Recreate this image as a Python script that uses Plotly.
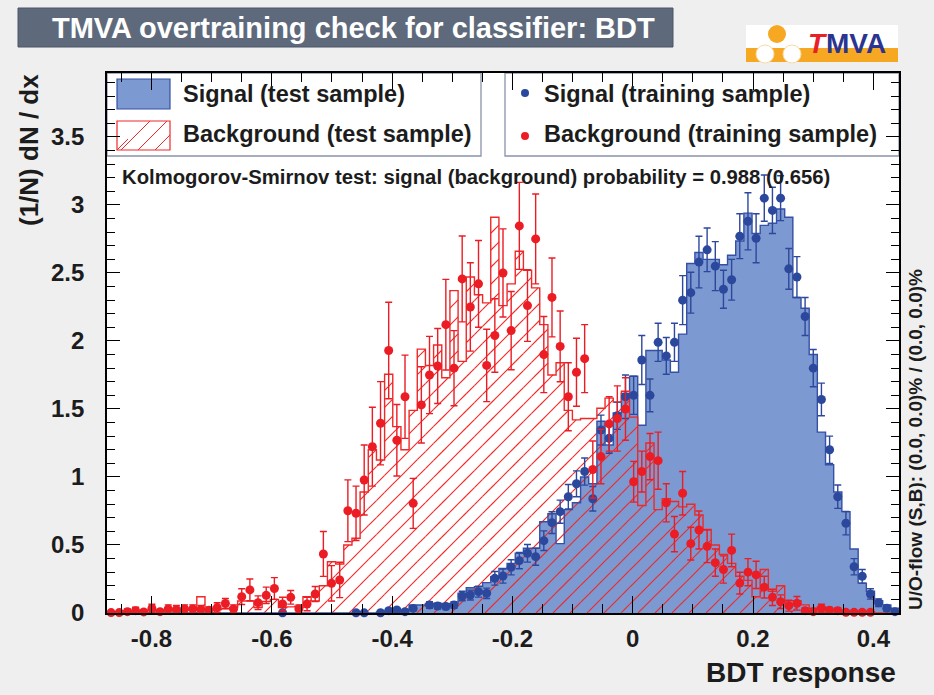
import numpy as np
import plotly.graph_objects as go

# ---------------------------------------------------------------- binning
X_MIN, X_MAX, N_BINS = -0.874, 0.4427, 97
Y_MAX = 3.97

X_TICKS = [-0.8, -0.6, -0.4, -0.2, 0.0, 0.2, 0.4]
X_TICK_LABELS = ["-0.8", "-0.6", "-0.4", "-0.2", "0", "0.2", "0.4"]

# ---------------------------------------------------------------- histograms (1/N dN/dx)
SIG_TEST = [
    0, 0, 0, 0, 0, 0, 0, 0, 0, 0,
    0, 0, 0, 0, 0, 0, 0, 0, 0, 0,
    0, 0, 0, 0, 0, 0, 0, 0, 0, 0,
    0, 0, 0, 0.005, 0.01, 0.01, 0.02, 0.059, 0.059, 0.071,
    0.071, 0.071, 0.071, 0.145, 0.186, 0.194, 0.223, 0.267, 0.328, 0.365,
    0.439, 0.476, 0.476, 0.671, 0.73, 0.51, 0.76, 0.81, 1.00, 0.95,
    1.41, 1.235, 1.47, 1.615, 1.74, 1.38, 1.93, 1.93, 1.86, 1.77,
    2.05, 2.57, 2.65, 2.60, 2.60, 2.56, 2.63, 2.735, 2.94, 2.79,
    2.85, 2.865, 2.97, 2.91, 2.32, 2.24, 1.90, 1.33, 1.09, 0.89,
    0.745, 0.47, 0.22, 0.16, 0.09, 0.06, 0.035,
]

BKG_TEST = [
    0.01, 0.01, 0.015, 0.01, 0.015, 0.02, 0.01, 0.02, 0.015, 0.02,
    0.02, 0.12, 0.02, 0.025, 0.03, 0.04, 0.088, 0.088, 0.04, 0.085,
    0.10, 0.04, 0.045, 0.05, 0.12, 0.088, 0.20, 0.377, 0.36, 0.50,
    0.55, 0.89, 1.20, 1.125, 1.755, 1.37, 1.20, 1.49, 1.94, 1.82,
    1.97, 1.73, 2.37, 1.85, 2.47, 2.34, 2.28, 2.91, 2.26, 2.42,
    2.66, 2.52, 2.39, 2.12, 1.75, 1.84, 1.49, 1.42, 1.43, 1.43,
    1.505, 1.58, 1.55, 1.63, 1.44, 0.79, 1.25, 0.76, 0.84, 0.82,
    0.78, 0.80, 0.72, 0.615, 0.50, 0.43, 0.365, 0.27, 0.24, 0.12,
    0.32, 0.16, 0.20, 0.09, 0.09, 0.06, 0.035, 0.045, 0.025, 0.02,
    0.01, 0.01, 0.01, 0.01, 0, 0, 0,
]

N = None
SIG_TRAIN = [
    N, N, N, N, N, N, N, N, N, N,
    N, N, N, N, N, N, N, N, N, N,
    N, 0.002, N, N, N, N, N, N, N, N,
    0.002, 0.001, N, 0.002, 0.017, 0.022, 0.01, 0.034, N, 0.059,
    0.051, 0.047, 0.059, 0.125, 0.132, 0.157, 0.145, 0.255, 0.272, 0.336,
    0.385, 0.439, 0.414, 0.532, 0.664, 0.745, 0.855, 0.95, 1.04, 0.84,
    1.345, 1.285, 1.45, 1.59, 1.60, 1.86, 1.60, 1.99, 1.89, 1.99,
    2.30, 2.355, 2.58, 2.67, 2.55, 2.38, 2.45, 2.77, 2.88, 2.755,
    3.05, 2.96, 3.05, 2.53, 2.47, 2.18, 1.80, 1.57, 1.20, 0.855,
    0.66, 0.34, 0.27, 0.14, 0.076, 0.035, 0.01,
]
SIG_TRAIN_ERR = [
    0, 0, 0, 0, 0, 0, 0, 0, 0, 0,
    0, 0, 0, 0, 0, 0, 0, 0, 0, 0,
    0, 0.005, 0, 0, 0, 0, 0, 0, 0, 0,
    0.005, 0.005, 0, 0.005, 0.012, 0.014, 0.01, 0.018, 0, 0.024,
    0.022, 0.022, 0.024, 0.035, 0.036, 0.04, 0.038, 0.05, 0.052, 0.056,
    0.06, 0.065, 0.063, 0.072, 0.08, 0.085, 0.09, 0.095, 0.10, 0.09,
    0.11, 0.11, 0.10, 0.16, 0.14, 0.18, 0.12, 0.14, 0.135, 0.14,
    0.18, 0.15, 0.19, 0.16, 0.18, 0.14, 0.15, 0.165, 0.21, 0.18,
    0.17, 0.17, 0.165, 0.15, 0.15, 0.14, 0.137, 0.12, 0.10, 0.086,
    0.086, 0.06, 0.05, 0.038, 0.028, 0.02, 0.01,
]

BKG_TRAIN = [
    0.003, 0.003, 0.01, 0.017, 0.008, 0.034, 0.01, 0.03, 0.025, 0.03,
    0.03, 0.025, 0.02, 0.04, 0.07, 0.03, 0.12, 0.17, 0.076, 0.13,
    0.18, 0.066, 0.115, 0.03, 0.066, 0.14, 0.434, 0.218, 0.243, 0.752,
    0.733, 0.978, 1.223, 1.395, 1.93, 1.27, 1.59, 0.806, 1.53, 1.75,
    1.816, 2.12, 1.80, 2.456, 2.25, 2.42, 1.82, 2.04, 2.50, 2.076,
    2.846, 2.26, 2.75, 1.90, 2.32, 1.96, 1.59, 1.77, 1.87, 1.055,
    1.15, 1.39, 1.43, 1.50, 0.965, 1.04, 1.15, 1.12, 0.81, 0.58,
    0.88, 0.51, 0.61, 0.49, 0.37, 0.32, 0.46, 0.22, 0.30, 0.28,
    0.19, 0.115, 0.083, 0.054, 0.071, 0.017, 0.010, 0.034, 0.02, 0.017,
    0.005, 0.005, 0.005, 0.005, N, N, N,
]
BKG_TRAIN_ERR = [
    0.01, 0.01, 0.02, 0.025, 0.015, 0.03, 0.015, 0.03, 0.03, 0.03,
    0.03, 0.03, 0.025, 0.035, 0.037, 0.03, 0.058, 0.08, 0.05, 0.06,
    0.08, 0.05, 0.05, 0.03, 0.05, 0.055, 0.165, 0.13, 0.13, 0.227,
    0.20, 0.257, 0.29, 0.306, 0.355, 0.263, 0.306, 0.184, 0.28, 0.284,
    0.276, 0.333, 0.276, 0.316, 0.325, 0.319, 0.266, 0.27, 0.324, 0.288,
    0.32, 0.263, 0.33, 0.28, 0.29, 0.26, 0.25, 0.25, 0.25, 0.21,
    0.20, 0.20, 0.24, 0.23, 0.15, 0.15, 0.17, 0.21, 0.14, 0.13,
    0.16, 0.12, 0.14, 0.12, 0.10, 0.10, 0.12, 0.08, 0.10, 0.10,
    0.08, 0.06, 0.05, 0.04, 0.05, 0.02, 0.015, 0.03, 0.02, 0.02,
    0.01, 0.01, 0.01, 0.01, 0, 0, 0,
]

KS_TEXT = "Kolmogorov-Smirnov test: signal (background) probability = 0.988 (0.656)"
FLOW_TEXT = "U/O-flow (S,B): (0.0, 0.0)% / (0.0, 0.0)%"

# ---------------------------------------------------------------- colours / fonts
SIG_FILL = "#7d99d1"
SIG_LINE = "#3550a5"
SIG_MARK = "#2c489d"
BKG_LINE = "#f02828"
BKG_MARK = "#ec1c24"
TEXT = "#1c1c1c"
FONT = "Liberation Sans, Arial, sans-serif"

edges = np.linspace(X_MIN, X_MAX, N_BINS + 1)
centers = 0.5 * (edges[:-1] + edges[1:])
bw = edges[1] - edges[0]

# canvas geometry
W, H = 934, 695
ML, MR, MT, MB = 107, 35, 73, 82
PW, PH = W - ML - MR, H - MT - MB
HATCH_STEP = 17  # px between hatch lines (horizontal)


def fx(px):
    return (px - ML) / PW


def fy(py):
    return (MT + PH - py) / PH


def hatch_segments(values):
    """45-degree hatch lines clipped to every bin of a histogram."""
    xs, ys = [], []
    sx = PW / (X_MAX - X_MIN)
    sy = PH / Y_MAX
    offsets = np.arange(-PH - HATCH_STEP, PW + HATCH_STEP, HATCH_STEP)
    for lo, hi, v in zip(edges[:-1], edges[1:], values):
        a, b, h = (lo - X_MIN) * sx, (hi - X_MIN) * sx, v * sy
        if h <= 0.5:
            continue
        for c in offsets:
            u0, u1 = max(a, c), min(b, c + h)
            if u1 > u0:
                xs += [X_MIN + u0 / sx, X_MIN + u1 / sx, None]
                ys += [(u0 - c) / sy, (u1 - c) / sy, None]
    return xs, ys


fig = go.Figure()

# signal (test sample): filled histogram
fig.add_trace(go.Bar(
    x=centers, y=SIG_TEST, width=bw,
    marker=dict(color=SIG_FILL, line=dict(width=0)),
    hoverinfo="skip", showlegend=False,
))

# background (test sample): hatched histogram
hx, hy = hatch_segments(BKG_TEST)
fig.add_trace(go.Scatter(
    x=hx, y=hy, mode="lines", line=dict(color=BKG_LINE, width=1.1),
    hoverinfo="skip", showlegend=False,
))


def step(values):
    return list(values) + [values[-1]]


fig.add_trace(go.Scatter(
    x=edges, y=step(SIG_TEST), mode="lines", line=dict(shape="hv", color=SIG_LINE, width=1.4),
    hoverinfo="skip", showlegend=False,
))
fig.add_trace(go.Scatter(
    x=edges, y=step(BKG_TEST), mode="lines", line=dict(shape="hv", color=BKG_LINE, width=1.4),
    hoverinfo="skip", showlegend=False,
))

# training samples: points with error bars
fig.add_trace(go.Scatter(
    x=centers, y=SIG_TRAIN, mode="markers",
    marker=dict(symbol="circle", size=9, color=SIG_MARK),
    error_y=dict(type="data", array=SIG_TRAIN_ERR, width=3.5, thickness=1.4, color=SIG_MARK),
    cliponaxis=False, showlegend=False,
))
fig.add_trace(go.Scatter(
    x=centers, y=BKG_TRAIN, mode="markers",
    marker=dict(symbol="circle", size=9, color=BKG_MARK),
    error_y=dict(type="data", array=BKG_TRAIN_ERR, width=3.5, thickness=1.4, color=BKG_MARK),
    cliponaxis=False, showlegend=False,
))

axis_common = dict(
    showline=True, linecolor="black", linewidth=1.6, mirror="ticks",
    ticks="inside", tickcolor="black", tickwidth=1.3, showgrid=False, zeroline=False,
    tickfont=dict(family=FONT, size=24, color=TEXT, weight="bold"),
)
fig.update_xaxes(
    range=[X_MIN, X_MAX], tickvals=X_TICKS, ticktext=X_TICK_LABELS, ticklen=17,
    minor=dict(dtick=0.05, tick0=0, ticklen=9, ticks="inside", tickcolor="black", tickwidth=1.2),
    ticklabelstandoff=3, **axis_common,
)
fig.update_yaxes(
    range=[0, Y_MAX], dtick=0.5, tick0=0, ticklen=13,
    minor=dict(dtick=0.1, tick0=0, ticklen=8, ticks="inside", tickcolor="black", tickwidth=1.2),
    ticklabelstandoff=16, **axis_common,
)

shapes = []
annotations = []

# title banner
shapes.append(dict(type="rect", xref="paper", yref="paper", x0=fx(18), x1=fx(673), y0=fy(47), y1=fy(8),
                   fillcolor="#5e6a7c", line=dict(color="#4b5566", width=1), layer="above"))
annotations.append(dict(xref="paper", yref="paper", x=fx(353), y=fy(27.5), xanchor="center", yanchor="middle",
                        text="TMVA overtraining check for classifier: BDT", showarrow=False,
                        font=dict(family=FONT, size=29, color="white", weight="bold")))

# logo
shapes.append(dict(type="rect", xref="paper", yref="paper", x0=fx(746), x1=fx(898), y0=fy(62), y1=fy(25),
                   fillcolor="white", line=dict(width=0), layer="above"))
shapes.append(dict(type="rect", xref="paper", yref="paper", x0=fx(746), x1=fx(898), y0=fy(62), y1=fy(48),
                   fillcolor="#f7a823", line=dict(width=0), layer="above"))
shapes.append(dict(type="circle", xref="paper", yref="paper", x0=fx(768), x1=fx(786), y0=fy(43), y1=fy(25),
                   fillcolor="#f7a823", line=dict(width=0), layer="above"))
for cx in (765, 792):
    shapes.append(dict(type="circle", xref="paper", yref="paper", x0=fx(cx - 9), x1=fx(cx + 9),
                       y0=fy(63), y1=fy(45), fillcolor="white",
                       line=dict(color="#fbd9a0", width=1), layer="above"))
annotations.append(dict(xref="paper", yref="paper", x=fx(806), y=fy(44), xanchor="left", yanchor="middle",
                        text="<i>T</i>", showarrow=False,
                        font=dict(family=FONT, size=28, color="#e8202a", weight="bold")))
annotations.append(dict(xref="paper", yref="paper", x=fx(824), y=fy(44), xanchor="left", yanchor="middle",
                        text="MVA", showarrow=False,
                        font=dict(family=FONT, size=28, color="#2b3590", weight="bold")))

# legend boxes
BOX_LINE = "#8893aa"
shapes.append(dict(type="rect", xref="paper", yref="paper", x0=fx(107), x1=fx(481), y0=fy(156), y1=fy(73),
                   fillcolor="white", line=dict(color=BOX_LINE, width=1.3), layer="below"))
shapes.append(dict(type="rect", xref="paper", yref="paper", x0=fx(505), x1=fx(899), y0=fy(156), y1=fy(73),
                   fillcolor="white", line=dict(color=BOX_LINE, width=1.3), layer="below"))
shapes.append(dict(type="rect", xref="paper", yref="paper", x0=fx(117), x1=fx(170), y0=fy(109), y1=fy(79),
                   fillcolor=SIG_FILL, line=dict(color=SIG_LINE, width=1.2), layer="below"))
shapes.append(dict(type="rect", xref="paper", yref="paper", x0=fx(117), x1=fx(170), y0=fy(150), y1=fy(121),
                   fillcolor="white", line=dict(color=BKG_LINE, width=1.2), layer="below"))
for (a, b, c, d) in [(117, 150, 128, 139), (121, 150, 150, 121), (138, 150, 167, 121), (155, 150, 170, 135)]:
    shapes.append(dict(type="line", xref="paper", yref="paper", x0=fx(a), y0=fy(b), x1=fx(c), y1=fy(d),
                       line=dict(color=BKG_LINE, width=1), layer="below"))
for cy, col in ((93, SIG_MARK), (136, BKG_MARK)):
    shapes.append(dict(type="circle", xref="paper", yref="paper", x0=fx(521), x1=fx(529),
                       y0=fy(cy + 4), y1=fy(cy - 4), fillcolor=col, line=dict(width=0), layer="above"))

legend_font = dict(family=FONT, size=23.5, color=TEXT, weight="bold")
for x, y, t in [(181, 94, "Signal (test sample)"), (181, 134, "Background (test sample)"),
                (542, 94, "Signal (training sample)"), (542, 134, "Background (training sample)")]:
    annotations.append(dict(xref="paper", yref="paper", x=fx(x), y=fy(y), xanchor="left", yanchor="middle",
                            text=t, showarrow=False, font=legend_font))

annotations.append(dict(xref="paper", yref="paper", x=fx(120), y=fy(177), xanchor="left", yanchor="middle",
                        text=KS_TEXT, showarrow=False,
                        font=dict(family=FONT, size=20.3, color=TEXT, weight="bold")))

# axis titles and overflow note
annotations.append(dict(xref="paper", yref="paper", x=fx(898), y=fy(672), xanchor="right", yanchor="middle",
                        text="BDT response", showarrow=False,
                        font=dict(family=FONT, size=28, color=TEXT, weight="bold")))
annotations.append(dict(xref="paper", yref="paper", x=fx(29), y=fy(150), xanchor="center", yanchor="middle",
                        text="(1/N) dN / dx", textangle=-90, showarrow=False,
                        font=dict(family=FONT, size=26, color=TEXT, weight="bold")))
annotations.append(dict(xref="paper", yref="paper", x=fx(915), y=fy(439), xanchor="center", yanchor="middle",
                        text=FLOW_TEXT, textangle=-90, showarrow=False,
                        font=dict(family=FONT, size=19, color=TEXT, weight="bold")))

fig.update_layout(
    width=W, height=H, margin=dict(l=ML, r=MR, t=MT, b=MB, pad=0),
    paper_bgcolor="#efefef", plot_bgcolor="white",
    barmode="overlay", bargap=0, showlegend=False,
    shapes=shapes, annotations=annotations,
)

fig.write_html("out.html")
